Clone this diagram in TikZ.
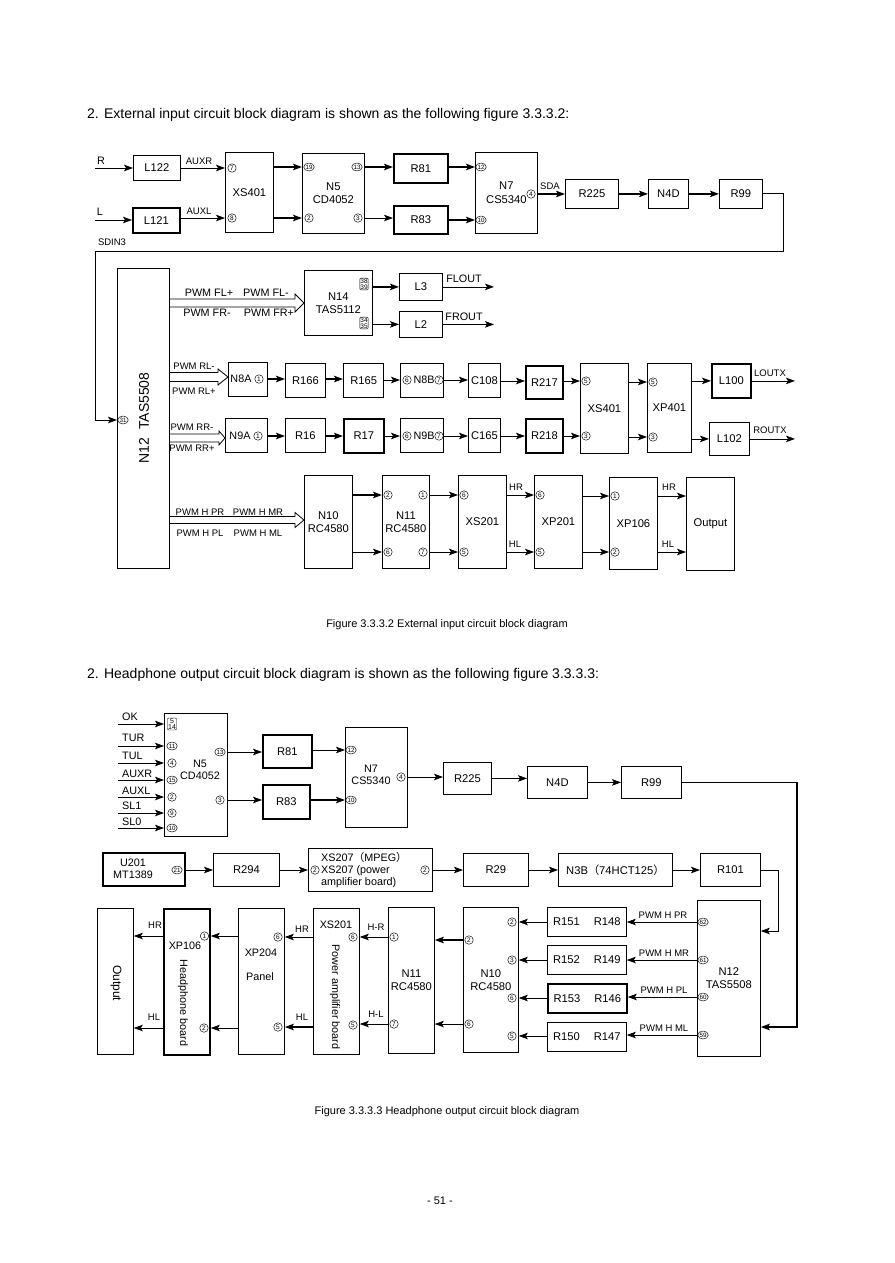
\documentclass[tikz,border=0pt]{standalone}
\usepackage{fontspec}
\setmainfont{Liberation Sans}
\newfontfamily\cjk{Noto Sans CJK SC}
\usetikzlibrary{arrows.meta,shapes.geometric}
\newcommand\fp[1]{{\cjk #1}}
\newcommand\blk[7][]{\node[bx,#1,minimum width={#5-#3},minimum height={#6-#4}] (#2) at (#3,#4) {#7};}
\newcommand\hollow[6]{\draw[hol] (#1,{#3-#4}) -- ({#2-#6},{#3-#4}) -- ({#2-#6},{#3-#5}) -- (#2,#3) -- ({#2-#6},{#3+#5}) -- ({#2-#6},{#3+#4}) -- (#1,{#3+#4});}
\begin{document}
\begin{tikzpicture}[x=1pt,y=-1pt,
  bx/.style={draw,line width=0.8pt,anchor=north west,inner sep=0pt,align=center,font=\fontsize{11.2}{12.8}\selectfont},
  thk/.style={line width=1.8pt},
  arr/.style={line width=0.8pt,-{Stealth[length=9pt,width=6.5pt,inset=2pt]}},
  tarr/.style={arr,line width=1.8pt},
  hol/.style={line width=0.8pt,line join=miter},
  lb/.style={inner sep=0pt,font=\fontsize{10.8}{12.4}\selectfont},
  sl/.style={inner sep=0pt,font=\fontsize{9.5}{11}\selectfont},
  pn/.style={circle,draw,line width=0.45pt,inner sep=0pt,minimum size=8.5pt,font=\fontsize{6.5}{6.5}\selectfont},
  pe/.style={ellipse,draw,line width=0.45pt,inner sep=0pt,minimum height=8pt,minimum width=10.5pt,font=\fontsize{6.2}{6.2}\selectfont},
  pb/.style={rectangle,rounded corners=1pt,draw,line width=0.45pt,inner sep=0.6pt,align=center,font=\fontsize{6.5}{6.5}\selectfont},
  hd/.style={anchor=west,inner sep=0pt,font=\fontsize{14}{16}\selectfont},
  capt/.style={inner sep=0pt,font=\fontsize{11}{13}\selectfont}
]
\useasboundingbox[fill=white] (0,0) rectangle (894,1263);

% ---------------- headers ----------------
\node[hd] (h1) at (87,115) {2. External input circuit block diagram is shown as the following figure 3.3.3.2:};
\node[capt] (c1) at (447,625) {Figure 3.3.3.2 External input circuit block diagram};
\node[hd] (h2) at (87,675) {2. Headphone output circuit block diagram is shown as the following figure 3.3.3.3:};
\node[capt] (c2) at (447,1112) {Figure 3.3.3.3 Headphone output circuit block diagram};
\node[capt] (pg) at (440,1201) {- 51 -};

% ================= TOP DIAGRAM =================
\blk{L122}{133}{155}{180}{180}{L122}
\blk[thk]{L121}{132}{207}{179}{232}{L121}
\blk{XSa}{225}{152}{273}{232}{XS401}
\blk{N5}{302}{153}{364}{233}{N5\\CD4052}
\blk[thk]{R81}{393}{153}{447}{182}{R81}
\blk[thk]{R83}{393}{205}{447}{233}{R83}
\blk{N7}{475}{152}{537}{233}{N7\\[1pt]CS5340}
\blk{R225}{565}{179}{618}{208}{R225}
\blk{N4D}{648}{179}{688}{208}{N4D}
\blk{R99}{719}{179}{762}{208}{R99}

\node[pn] (pa7) at (232,168) {7};
\node[pn] (pa8) at (232,218) {8};
\node[pe] (p19) at (309,167) {19};
\node[pn] (p2) at (309,218) {2};
\node[pe] (p13) at (357,167) {13};
\node[pn] (p3) at (358,218) {3};
\node[pe] (p12) at (481,167) {12};
\node[pe] (p10) at (481,220) {10};
\node[pn] (p4) at (531,194) {4};

\coordinate (inR) at (95,168);
\coordinate (inL) at (95,220);
\draw[arr] (inR) -- (L122.west |- inR);
\node[lb] (tR) at (101,161) {R};
\draw[arr] (inL) -- (L121.west |- inL);
\node[lb] (tL) at (100,212) {L};
\draw[arr] (L122.east |- pa7) -- (XSa.west |- pa7);
\node[sl] (tAUXR) at (199,161) {AUXR};
\draw[arr] (L121.east |- pa8) -- (XSa.west |- pa8);
\node[sl] (tAUXL) at (199,211) {AUXL};
\draw[tarr] (XSa.east |- p19) -- (N5.west |- p19);
\draw[tarr] (XSa.east |- p2) -- (N5.west |- p2);
\draw[tarr] (N5.east |- p13) -- (R81.west |- p13);
\draw[arr] (N5.east |- p3) -- (R83.west |- p3);
\draw[tarr] (R81.east |- p12) -- (N7.west |- p12);
\draw[tarr] (R83.east |- p10) -- (N7.west |- p10);
\draw[tarr] (N7.east |- p4) -- (R225.west |- p4);
\node[sl] (tSDA) at (550,186) {SDA};
\draw[tarr] (R225.east) -- (R225.east -| N4D.west);
\draw[tarr] (N4D.east) -- (N4D.east -| R99.west);

% N12 main
\blk{N12}{117}{268}{169}{568}{}
\node[rotate=90,inner sep=0pt,font=\fontsize{14}{15}\selectfont] (N12t) at (144,418) {N12\hspace{8pt}TAS5508};
\node[pe] (p31) at (123,420) {31};
\coordinate (t1) at (783,251);
\coordinate (t2) at (95,420);
\draw[arr,line width=1pt] (R99.east) -| (t1) -| (t2) -- (N12.west |- t2);
\node[sl] (tSDIN) at (112,242) {SDIN3};

% N14 branch
\hollow{169}{304}{303}{4}{9}{9}
\node[lb] (a1) at (209,293) {PWM FL+};
\node[lb] (a2) at (266,293) {PWM FL-};
\node[lb] (a3) at (207,313) {PWM FR-};
\node[lb] (a4) at (269,313) {PWM FR+};
\blk{N14}{304}{270}{372}{335}{N14\\TAS5112}
\node[pb] (p38) at (364,284) {38\\[-0.5pt]39};
\node[pb] (p34) at (364,323) {34\\[-0.5pt]35};
\blk{L3}{399}{273}{442}{300}{L3}
\blk{L2}{399}{311}{442}{337}{L2}
\draw[tarr] (N14.east |- L3) -- (L3.west);
\draw[arr] (N14.east |- L2) -- (L2.west);
\coordinate (fo) at (494,286);
\draw[arr] (L3.east) -- (L3.east -| fo);
\node[lb] (tFL) at (464,279) {FLOUT};
\draw[arr] (L2.east) -- (L2.east -| fo);
\node[lb] (tFR) at (464,317) {FROUT};

% RL row
\hollow{169}{228}{377}{4.5}{8}{10}
\node[sl] (b1) at (194,366) {PWM RL-};
\node[sl] (b2) at (194,391) {PWM RL+};
\blk{N8A}{228}{362}{267}{396}{}
\node[lb] (tN8A) at (241,379) {N8A};
\node[pn] (p8a) at (259,379) {1};
\blk{R166}{285}{363}{325}{397}{R166}
\blk[line width=1.3pt]{R165}{343}{363}{383}{397}{R165}
\blk{N8B}{400}{363}{443}{397}{}
\node[pn] (p8b6) at (407,380) {6};
\node[lb] (tN8B) at (424,380) {N8B};
\node[pn] (p8b7) at (439,380) {7};
\blk{C108}{468}{363}{500}{397}{C108}
\blk[thk]{R217}{525}{365}{562}{398}{R217}
\blk{XSb}{580}{363}{628}{453}{XS401}
\blk{XP401}{647}{363}{691}{452}{XP401}
\blk[thk]{L100}{711}{363}{750}{397}{L100}
\blk{L102}{709}{422}{749}{455}{L102}
\node[pn] (xs5) at (586,381) {5};
\node[pn] (xs3) at (586,436) {3};
\node[pn] (xp5) at (653,382) {5};
\node[pn] (xp3) at (653,437) {3};
\draw[tarr] (N8A.east |- p8a) -- (R166.west |- p8a);
\draw[tarr] (R166.east |- p8a) -- (R165.west |- p8a);
\draw[arr] (R165.east |- p8b6) -- (N8B.west |- p8b6);
\draw[arr] (N8B.east |- p8b6) -- (C108.west |- p8b6);
\draw[arr] (C108.east |- xs5) -- (R217.west |- xs5);
\draw[arr] (R217.east |- xs5) -- (XSb.west |- xs5);
\draw[arr] (XSb.east |- xp5) -- (XP401.west |- xp5);
\draw[arr] (XP401.east |- L100) -- (L100.west);
\coordinate (lo) at (795,381);
\draw[arr] (L100.east) -- (L100.east -| lo);
\node[sl] (tLO) at (770,373) {LOUTX};

% RR row
\hollow{169}{225}{438}{4}{7}{6}
\node[sl] (b3) at (192,427) {PWM RR-};
\node[sl] (b4) at (192,448) {PWM RR+};
\blk{N9A}{225}{418}{267}{452}{}
\node[lb] (tN9A) at (240,436) {N9A};
\node[pn] (p9a) at (258,436) {1};
\blk{R16}{285}{418}{325}{452}{R16}
\blk[thk]{R17}{343}{418}{383}{452}{R17}
\blk{N9B}{400}{418}{443}{452}{}
\node[pn] (p9b6) at (407,436) {6};
\node[lb] (tN9B) at (424,436) {N9B};
\node[pn] (p9b7) at (439,436) {7};
\blk{C165}{468}{418}{500}{452}{C165}
\blk[thk]{R218}{525}{418}{562}{452}{R218}
\draw[tarr] (N9A.east |- p9a) -- (R16.west |- p9a);
\draw[tarr] (R16.east |- p9a) -- (R17.west |- p9a);
\draw[arr] (R17.east |- p9b6) -- (N9B.west |- p9b6);
\draw[arr] (N9B.east |- p9b6) -- (C165.west |- p9b6);
\draw[arr] (C165.east |- xs3) -- (R218.west |- xs3);
\draw[arr] (R218.east |- xs3) -- (XSb.west |- xs3);
\draw[arr] (XSb.east |- xp3) -- (XP401.west |- xp3);
\draw[arr] (XP401.east |- L102) -- (L102.west);
\coordinate (ro) at (795,437);
\draw[arr] (L102.east) -- (L102.east -| ro);
\node[sl] (tRO) at (770,430) {ROUTX};

% H row
\hollow{169}{304}{520}{3.5}{7.5}{9}
\node[sl] (c1a) at (200,512) {PWM H PR};
\node[sl] (c1b) at (258,512) {PWM H MR};
\node[sl] (c1c) at (200,533) {PWM H PL};
\node[sl] (c1d) at (258,533) {PWM H ML};
\blk{N10}{304}{475}{352}{568}{N10\\RC4580}
\blk{N11}{382}{475}{429}{568}{N11\\RC4580}
\node[pn] (n11a) at (388,495) {2};
\node[pn] (n11b) at (388,552) {6};
\node[pn] (n11c) at (423,495) {1};
\node[pn] (n11d) at (423,552) {7};
\blk{XS201}{458}{475}{506}{568}{XS201}
\node[pn] (xsa) at (464,495) {6};
\node[pn] (xsb) at (464,552) {5};
\blk{XP201}{534}{475}{582}{568}{XP201}
\node[pn] (xpa) at (540,495) {6};
\node[pn] (xpb) at (540,552) {5};
\blk{XP106}{609}{477}{657}{569}{XP106}
\node[pn] (xqa) at (615,496) {1};
\node[pn] (xqb) at (615,552) {2};
\blk{OutT}{686}{477}{734}{570}{Output}
\draw[tarr] (N10.east |- n11a) -- (N11.west |- n11a);
\draw[arr] (N10.east |- n11b) -- (N11.west |- n11b);
\draw[arr] (N11.east |- n11c) -- (XS201.west |- n11c);
\draw[arr] (N11.east |- n11d) -- (XS201.west |- n11d);
\draw[arr] (XS201.east |- xpa) -- (XP201.west |- xpa);
\node[sl] (hr1) at (516,487) {HR};
\draw[arr] (XS201.east |- xpb) -- (XP201.west |- xpb);
\node[sl] (hl1) at (515,544) {HL};
\draw[arr] (XP201.east |- xqa) -- (XP106.west |- xqa);
\draw[arr] (XP201.east |- xqb) -- (XP106.west |- xqb);
\draw[arr] (XP106.east |- xqa) -- (OutT.west |- xqa);
\node[sl] (hr2) at (669,487) {HR};
\draw[arr] (XP106.east |- xqb) -- (OutT.west |- xqb);
\node[sl] (hl2) at (668,544) {HL};

% ================= BOTTOM DIAGRAM =================
\blk{N5b}{164}{713}{227}{836}{}
\node[lb,align=center] (tN5b) at (200,770) {N5\\CD4052};
\node[pb,font=\fontsize{7}{7}\selectfont] (q514) at (172,724) {5\\[-1pt]14};
\node[pe] (q11) at (172,746) {11};
\node[pn] (q4) at (172,763) {4};
\node[pe] (q15) at (172,780) {15};
\node[pn] (q2) at (172,797) {2};
\node[pn] (q9) at (172,813) {9};
\node[pe] (q10) at (172,828) {10};
\coordinate (sx) at (118,0);
\foreach \n/\t/\ly in {q514/OK/717, q11/TUR/738, q4/TUL/756, q15/AUXR/774, q2/AUXL/791, q9/SL1/806, q10/SL0/822}{
  \draw[arr] (sx |- \n) -- (N5b.west |- \n);
  \node[lb,anchor=west] (l\n) at (122,\ly) {\t};
}
\node[pe] (q13) at (220,752) {13};
\node[pn] (q3) at (220,800) {3};
\blk[thk]{R81b}{262}{734}{311}{767}{R81}
\blk[thk]{R83b}{262}{784}{309}{818}{R83}
\blk{N7b}{345}{727}{407}{827}{}
\node[lb,align=center] (tN7b) at (371,775) {N7\\CS5340};
\node[pe] (q12) at (351,750) {12};
\node[pe] (q10b) at (351,800) {10};
\node[pn] (q4b) at (401,777) {4};
\blk{R225b}{443}{762}{491}{794}{R225}
\blk{N4Db}{527}{766}{587}{798}{N4D}
\blk{R99b}{621}{766}{681}{798}{R99}
\draw[arr] (N5b.east |- q13) -- (R81b.west |- q13);
\draw[arr] (N5b.east |- q3) -- (R83b.west |- q3);
\draw[arr] (R81b.east |- q12) -- (N7b.west |- q12);
\draw[tarr] (R83b.east |- q10b) -- (N7b.west |- q10b);
\draw[arr] (N7b.east |- q4b) -- (R225b.west |- q4b);
\draw[arr] (R225b.east) -- (R225b.east -| N4Db.west);
\draw[arr] (N4Db.east) -- (N4Db.east -| R99b.west);

% row 2
\blk[thk]{U201}{102}{852}{184}{885}{}
\node[lb,align=center] (tU201) at (133,869) {U201\\MT1389};
\node[pe] (q21) at (177,870) {21};
\blk{R294}{213}{853}{279}{886}{R294}
\blk{XS207}{308}{848}{432}{891}{}
\node[lb,anchor=west,align=left] (tXS207) at (321,870) {XS207\fp{（}MPEG\fp{）}\\XS207 (power\\amplifier board)};
\node[pn] (q2a) at (315,870) {2};
\node[pn] (q2b) at (425,870) {2};
\blk{R29}{463}{853}{528}{886}{R29}
\blk{N3B}{558}{853}{672}{886}{N3B\fp{（}74HCT125\fp{）}}
\blk{R101}{700}{853}{760}{886}{R101}
\draw[arr] (U201.east |- q21) -- (R294.west |- q21);
\draw[arr] (R294.east |- q2a) -- (XS207.west |- q2a);
\draw[arr] (XS207.east |- q2b) -- (R29.west |- q2b);
\draw[arr] (R29.east |- q2b) -- (N3B.west |- q2b);
\draw[arr] (N3B.east |- q2b) -- (R101.west |- q2b);

% N12 bottom
\blk{N12b}{697}{900}{760}{1056}{N12\\TAS5508}
\node[pe] (q62) at (703,922) {62};
\node[pe] (q61) at (703,960) {61};
\node[pe] (q60) at (703,997) {60};
\node[pe] (q59) at (703,1035) {59};
\coordinate (u1) at (797,1027);
\coordinate (u2) at (778,931);
\draw[tarr] (R99b.east) -| (u1) -- (N12b.east |- u1);
\draw[arr] (R101.east) -| (u2) -- (N12b.east |- u2);

\blk{RA}{547}{907}{626}{936}{R151\hspace{14pt}R148}
\blk{RB}{547}{945}{626}{974}{R152\hspace{14pt}R149}
\blk[thk]{RC}{547}{983}{626}{1012}{R153\hspace{14pt}R146}
\blk{RD}{547}{1022}{626}{1051}{R150\hspace{14pt}R147}
\draw[arr] (N12b.west |- q62) -- (RA.east |- q62);
\node[sl] (w1) at (663,915) {PWM H PR};
\draw[arr] (N12b.west |- q61) -- (RB.east |- q61);
\node[sl] (w2) at (664,953) {PWM H MR};
\draw[arr] (N12b.west |- q60) -- (RC.east |- q60);
\node[sl] (w3) at (664,990) {PWM H PL};
\draw[arr] (N12b.west |- q59) -- (RD.east |- q59);
\node[sl] (w4) at (664,1028) {PWM H ML};

\blk{N10b}{463}{907}{518}{1052}{N10\\RC4580}
\node[pn] (r2) at (512,922) {2};
\node[pn] (r3) at (512,960) {3};
\node[pn] (r6) at (512,998) {6};
\node[pn] (r5) at (512,1036) {5};
\draw[arr] (RA.west |- r2) -- (N10b.east |- r2);
\draw[arr] (RB.west |- r3) -- (N10b.east |- r3);
\draw[arr] (RC.west |- r6) -- (N10b.east |- r6);
\draw[arr] (RD.west |- r5) -- (N10b.east |- r5);
\node[pn] (r2l) at (469,940) {2};
\node[pn] (r6l) at (469,1024) {6};

\blk{N11b}{388}{907}{434}{1053}{N11\\RC4580}
\node[pn] (s1) at (394,937) {1};
\node[pn] (s7) at (394,1024) {7};
\draw[tarr] (N10b.west |- r2l) -- (N11b.east |- r2l);
\draw[arr] (N10b.west |- r6l) -- (N11b.east |- r6l);

\blk{XS201b}{313}{908}{359}{1054}{}
\node[lb] (tXS201b) at (336,925) {XS201};
\node[lb,rotate=-90] (tPAB) at (335,997) {Power amplifier board};
\node[pn] (s6) at (353,937) {6};
\node[pn] (s5) at (353,1025) {5};
\draw[arr] (N11b.west |- s1) -- (XS201b.east |- s1);
\node[sl] (tHR3) at (376,927) {H-R};
\draw[arr] (N11b.west |- s7) -- (XS201b.east |- s7);
\node[sl] (tHL3) at (376,1014) {H-L};

\blk{XP204}{238}{908}{284}{1054}{}
\node[lb] (tXP204) at (261,953) {XP204};
\node[lb] (tPanel) at (260,977) {Panel};
\node[pn] (v6) at (278,937) {6};
\node[pn] (v5) at (278,1027) {5};
\draw[arr] (XS201b.west |- v6) -- (XP204.east |- v6);
\node[sl] (tHR4) at (302,929) {HR};
\draw[tarr] (XS201b.west |- v5) -- (XP204.east |- v5);
\node[sl] (tHL4) at (302,1017) {HL};

\blk[thk]{XP106b}{163}{908}{209}{1054}{}
\node[lb] (tXP106b) at (185,946) {XP106};
\node[lb,rotate=-90] (tHB) at (183,1003) {Headphone board};
\node[pn] (v1) at (204.5,936) {1};
\node[pn] (v2) at (204,1028) {2};
\draw[arr] (XP204.west |- v1) -- (XP106b.east |- v1);
\draw[arr] (XP204.west |- v2) -- (XP106b.east |- v2);

\blk{Outb}{97}{908}{133}{1054}{}
\node[rotate=-90,inner sep=0pt,font=\fontsize{12}{13}\selectfont] (tOutb) at (116,983) {Output};
\draw[arr] (XP106b.west |- v1) -- (Outb.east |- v1);
\node[sl] (tHR5) at (155,925) {HR};
\draw[arr] (XP106b.west |- v2) -- (Outb.east |- v2);
\node[sl] (tHL5) at (154,1017) {HL};
\end{tikzpicture}
\end{document}
